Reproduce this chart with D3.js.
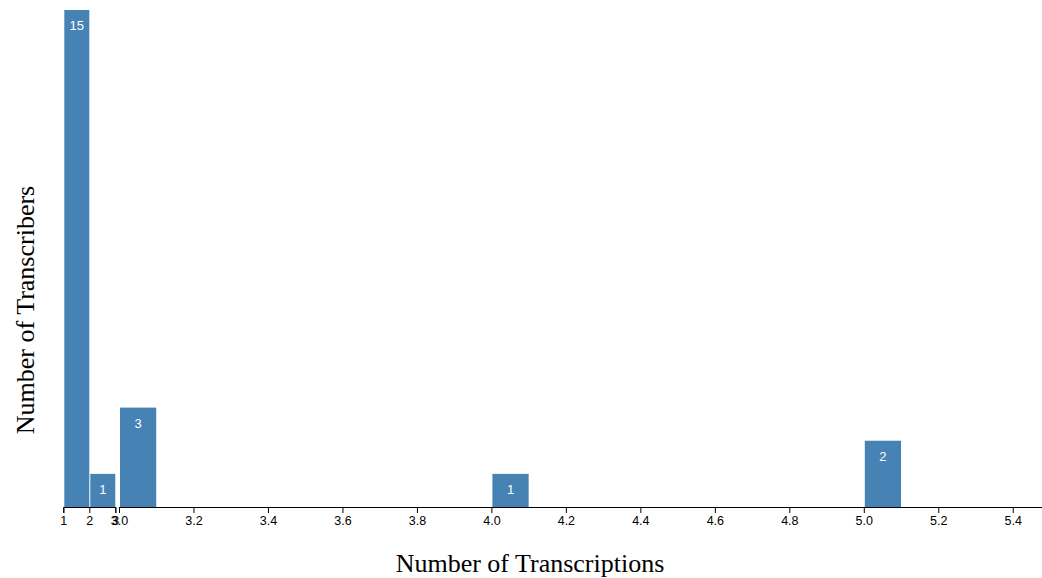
<!DOCTYPE html>
<html>
<head>
<meta charset="utf-8">
<script src="https://cdn.jsdelivr.net/npm/d3@7"></script>
<style>
  body { margin: 0; background: #fff; }
  svg { display: block; }
</style>
</head>
<body>
<svg id="chart" width="1042" height="578"></svg>
<script>
// Bins: [x0, x1) and counts
const binStarts = [1, 2, 3.0, 4.0, 5.0];
const binEnds   = [2, 3, 3.1, 4.1, 5.1];
const counts    = [15, 1, 3, 1, 2];
// which x-scale segment each bin belongs to (0 = integer segment, 1 = decimal segment)
const segment   = [0, 0, 1, 1, 1];
const ticksA = [1, 2, 3];
const ticksB = [3.0, 3.2, 3.4, 3.6, 3.8, 4.0, 4.2, 4.4, 4.6, 4.8, 5.0, 5.2, 5.4];

const svg = d3.select("#chart");
const baseY = 507;

const xA = d3.scaleLinear().domain([1, 3]).range([63.3, 115.3]);
const xB = d3.scaleLinear().domain([3, 5.5]).range([119, 1050]);
const y = d3.scaleLinear().domain([0, 15]).range([baseY, 10]);
const xs = [xA, xB];

const bars = svg.append("g");
binStarts.forEach((s, i) => {
  const sc = xs[segment[i]];
  const x0 = sc(s), x1 = sc(binEnds[i]);
  bars.append("rect")
    .attr("x", x0 + 1)
    .attr("y", y(counts[i]))
    .attr("width", Math.max(0, x1 - x0 - 1))
    .attr("height", baseY - y(counts[i]))
    .attr("fill", "steelblue");
  bars.append("text")
    .attr("x", (x0 + x1) / 2 + 0.5)
    .attr("y", y(counts[i]) + 20)
    .attr("text-anchor", "middle")
    .attr("fill", "#fff")
    .style("font-family", "'Liberation Sans', Arial, sans-serif")
    .style("font-size", "13px")
    .text(counts[i]);
});

const gA = svg.append("g")
  .attr("transform", `translate(0,${baseY})`)
  .call(d3.axisBottom(xA).tickValues(ticksA).tickFormat(d3.format("d")));

const gB = svg.append("g")
  .attr("transform", `translate(0,${baseY})`)
  .call(d3.axisBottom(xB).tickValues(ticksB).tickFormat(d3.format(".1f")));

[gA, gB].forEach(g => g.selectAll("text")
  .style("font-family", "'Liberation Sans', Arial, sans-serif")
  .style("font-size", "12.5px"));

svg.append("text")
  .attr("x", 530)
  .attr("y", 572)
  .attr("text-anchor", "middle")
  .style("font-family", "'Liberation Serif', 'Times New Roman', serif")
  .style("font-size", "26px")
  .text("Number of Transcriptions");

svg.append("text")
  .attr("transform", "translate(34,310) rotate(-90)")
  .attr("text-anchor", "middle")
  .style("font-family", "'Liberation Serif', 'Times New Roman', serif")
  .style("font-size", "26px")
  .text("Number of Transcribers");
</script>
</body>
</html>
